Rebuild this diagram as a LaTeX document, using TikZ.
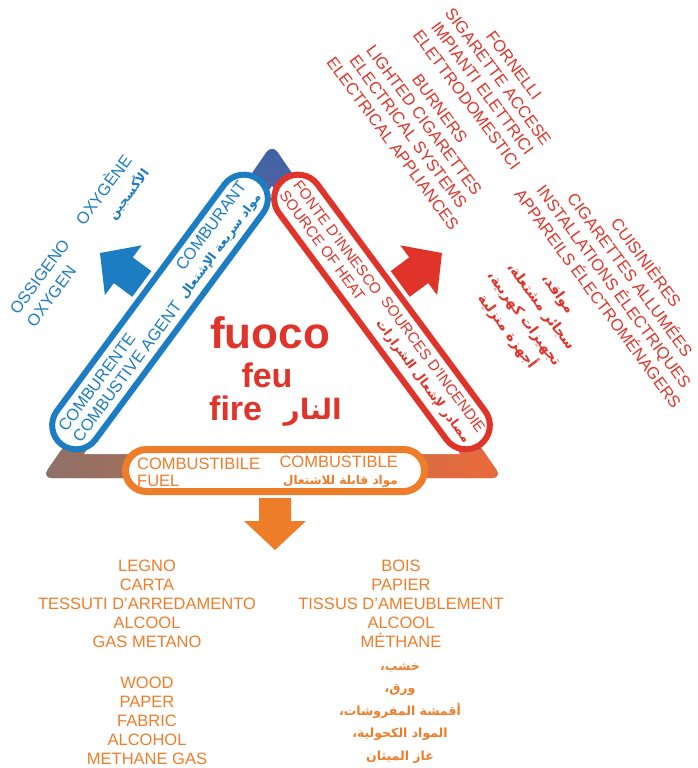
\documentclass[tikz,border=0pt]{standalone}
\usepackage{fontspec}
\setmainfont{Liberation Sans}
\newfontfamily\arabicfont[Script=Arabic]{DejaVu Sans}
\TeXXeTstate=1
\usetikzlibrary{calc}

\definecolor{oxblue}{RGB}{28,125,194}
\definecolor{heatred}{RGB}{224,52,42}
\definecolor{fuelorange}{RGB}{238,125,42}
\definecolor{triblue}{RGB}{62,98,168}
\definecolor{tribrown}{RGB}{175,110,90}
\definecolor{barbrown}{RGB}{140,112,104}
\definecolor{barorange}{RGB}{236,106,56}

\newcommand{\artext}[1]{{\arabicfont\bfseries\beginR #1\endR}}

\tikzset{
  pill/.style={draw, fill=white, line width=6pt, rounded corners=24pt,
    minimum width=330pt, minimum height=48pt, inner sep=0pt},
  lbl/.style={inner sep=0pt, font=\fontsize{16.5}{18}\selectfont},
  fatarrow/.pic={\fill (0,0) -- (-29,31) -- (-29,16) -- (-52,16) -- (-52,-16)
    -- (-29,-16) -- (-29,-31) -- cycle;}
}

\begin{document}
\begin{tikzpicture}[x=1pt, y=-1pt]
  \useasboundingbox (0,0) rectangle (698,768);

  % triangle behind the three pills
  \shade[top color=triblue, bottom color=tribrown, rounded corners=10pt]
    (272,144) -- (42,478) -- (502,478) -- cycle;
  \begin{scope}
    \clip[rounded corners=10pt] (272,144) -- (42,478) -- (502,478) -- cycle;
    \shade[left color=barbrown, right color=barorange] (30,450) rectangle (515,485);
  \end{scope}
  \fill[white] (272,186) -- (84,454) -- (460,454) -- cycle;

  % the three sides
  \node[pill, draw=oxblue, rotate=53.5] (oxpill) at (160,312) {};
  \node[pill, draw=heatred, rotate=-53.5] (heatpill) at (382,312) {};
  \node[draw=fuelorange, fill=white, line width=7pt, rounded corners=21pt,
    minimum width=299pt, minimum height=42pt] (fuelpill) at (275,470.5) {};

  \begin{scope}[every node/.style={lbl, oxblue, rotate=53.5}]
    \node[anchor=west, align=left] (oxleft) at ($(oxpill.west)!15pt!(oxpill.east)$)
      {COMBURENTE\\COMBUSTIVE AGENT};
    \node[anchor=east, align=right] (oxright) at ($(oxpill.east)!15pt!(oxpill.west)$)
      {COMBURANT\\{\fontsize{12.5}{16}\selectfont\artext{مواد سريعة الإشتعال}}};
    \node[anchor=west, align=left, font=\fontsize{16.5}{21}\selectfont] (oxname)
      at (21.8,318.6) {OSSIGENO\\OXYGEN};
    \node[anchor=east, align=right, font=\fontsize{16.5}{21}\selectfont] (oxnamefr)
      at (136.7,163.4) {OXYGÈNE\\{\fontsize{12.5}{16}\selectfont\artext{الأكسجين}}};
  \end{scope}

  \begin{scope}[every node/.style={lbl, heatred, rotate=-53.5}]
    \node[anchor=west, align=left, font=\fontsize{15}{17}\selectfont] (heatleft)
      at ($(heatpill.west)!13pt!(heatpill.east)$) {FONTE D'INNESCO\\SOURCE OF HEAT};
    \node[anchor=east, align=right, font=\fontsize{15}{17}\selectfont] (heatright)
      at ($(heatpill.east)!13pt!(heatpill.west)$)
      {SOURCES D'INCENDIE\\{\fontsize{12.5}{16}\selectfont\artext{مصادر لإشعال الشرارات}}};
    \node[align=center, font=\fontsize{16.5}{19.5}\selectfont] (heatit) at (490.4,82.5)
      {FORNELLI\\SIGARETTE ACCESE\\IMPIANTI ELETTRICI\\ELETTRODOMESTICI};
    \node[align=center, font=\fontsize{16.5}{19.5}\selectfont] (heaten) at (416.3,126.2)
      {BURNERS\\LIGHTED CIGARETTES\\ELECTRICAL SYSTEMS\\ELECTRICAL APPLIANCES};
    \node[align=center, font=\fontsize{16.5}{20}\selectfont] (heatfr) at (623,280)
      {CUISINIÈRES\\CIGARETTES ALLUMÉES\\INSTALLATIONS ÉLECTRIQUES\\APPAREILS ÉLECTROMÉNAGERS};
    \node[align=center, font=\fontsize{14}{21}\selectfont] (heatar) at (532,313)
      {\artext{مواقد،}\\\artext{سجائر مشتعلة،}\\\artext{تجهيزات كهربية،}\\\artext{أجهزة منزلية}};
  \end{scope}

  \begin{scope}[every node/.style={lbl, fuelorange}]
    \node[anchor=west, align=left, font=\fontsize{16.5}{17}\selectfont] (fuelleft)
      at (137,472) {COMBUSTIBILE\\FUEL};
    \node[anchor=east, align=right, font=\fontsize{16.5}{17}\selectfont] (fuelright)
      at (398,472) {COMBUSTIBLE\\{\fontsize{12}{16}\selectfont\artext{مواد قابلة للاشتعال}}};
    \node[align=center, font=\fontsize{16.5}{19}\selectfont] (fuelit) at (147,604)
      {LEGNO\\CARTA\\TESSUTI D'ARREDAMENTO\\ALCOOL\\GAS METANO};
    \node[align=center, font=\fontsize{16.5}{19}\selectfont] (fuelfr) at (401,604)
      {BOIS\\PAPIER\\TISSUS D'AMEUBLEMENT\\ALCOOL\\MÉTHANE};
    \node[align=center, font=\fontsize{16.5}{19}\selectfont] (fuelen) at (147,720.5)
      {WOOD\\PAPER\\FABRIC\\ALCOHOL\\METHANE GAS};
    \node[align=center, font=\fontsize{12.5}{22.5}\selectfont] (fuelar) at (400,713)
      {\artext{خشب،}\\\artext{ورق،}\\\artext{أقمشة المفروشات،}\\\artext{المواد الكحولية،}\\\artext{غاز الميثان}};
  \end{scope}

  % arrows out of the sides
  \pic[fill=oxblue, rotate=143.5] at (100,253) {fatarrow};
  \pic[fill=heatred, rotate=36.5] at (442,253) {fatarrow};
  \pic[fill=fuelorange, rotate=-90] at (275,550) {fatarrow};

  % centre
  \begin{scope}[every node/.style={inner sep=0pt, heatred}]
    \node[anchor=base, font=\fontsize{44}{44}\selectfont\bfseries] (fuoco) at (270,348) {fuoco};
    \node[anchor=base, font=\fontsize{34}{34}\selectfont\bfseries] (feu) at (267,387) {feu};
    \node[anchor=base west, font=\fontsize{34}{34}\selectfont\bfseries] (fire) at (209,420) {fire};
    \node[anchor=base east, font=\fontsize{28}{28}\selectfont] (firear) at (342,419) {\artext{النار}};
  \end{scope}
\end{tikzpicture}
\end{document}
